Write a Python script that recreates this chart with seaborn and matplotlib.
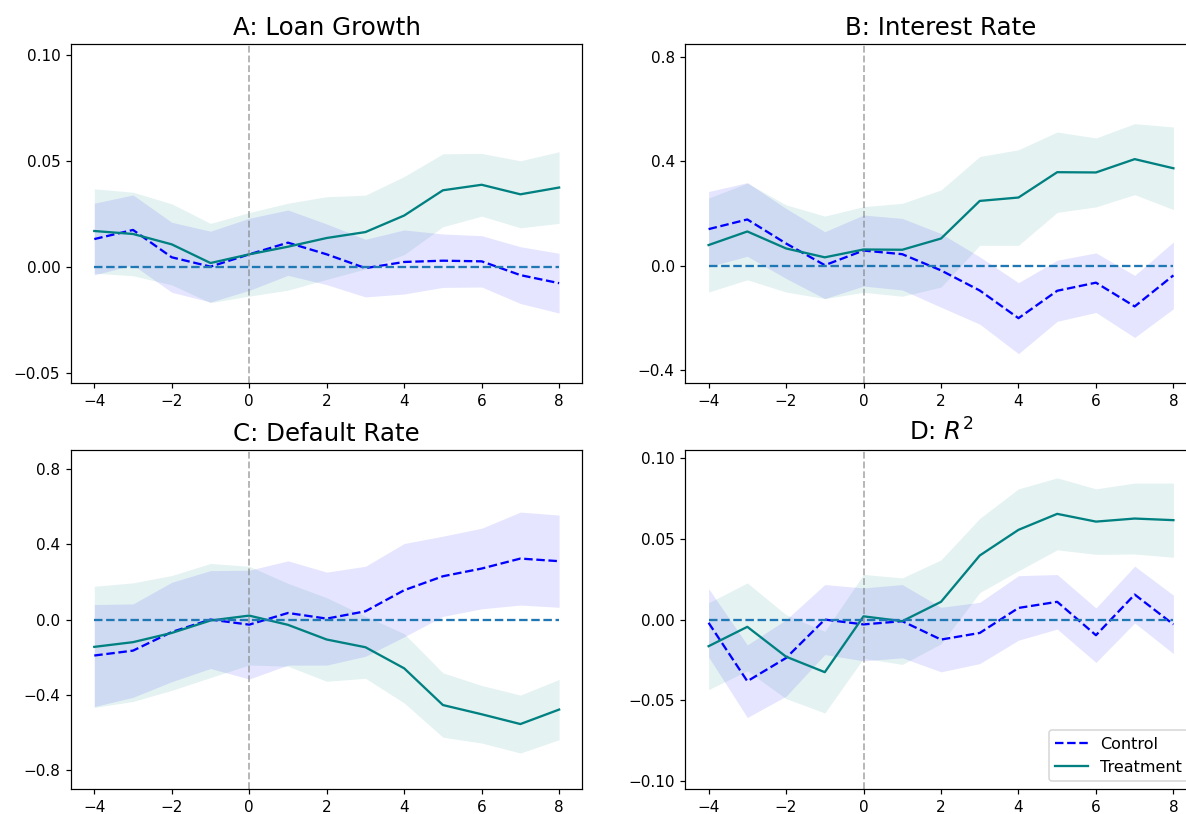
import matplotlib
matplotlib.use("Agg")
import matplotlib.pyplot as plt
import numpy as np
import pandas as pd
import seaborn as sns

# ---------------- data ----------------
periods = [-4, -3, -2, -1, 0, 1, 2, 3, 4, 5, 6, 7, 8]

titles = ["A: Loan Growth", "B: Interest Rate", "C: Default Rate", "D: $R^2$"]

ctrl_A = [0.0132, 0.0175, 0.0046, 0.0002, 0.0060, 0.0115, 0.0060, -0.0005, 0.0024, 0.0030, 0.0027, -0.0038, -0.0076]
ctrl_A_ci = [0.0169, 0.0165, 0.0165, 0.0167, 0.0170, 0.0154, 0.0143, 0.0136, 0.0151, 0.0126, 0.0121, 0.0134, 0.0141]
treat_A = [0.0170, 0.0156, 0.0107, 0.0019, 0.0060, 0.0096, 0.0137, 0.0165, 0.0243, 0.0362, 0.0388, 0.0343, 0.0375]
treat_A_ci = [0.0199, 0.0197, 0.0191, 0.0187, 0.0197, 0.0205, 0.0195, 0.0174, 0.0184, 0.0172, 0.0148, 0.0158, 0.0169]

ctrl_B = [0.141, 0.178, 0.086, 0.003, 0.059, 0.045, -0.017, -0.094, -0.200, -0.095, -0.064, -0.155, -0.036]
ctrl_B_ci = [0.144, 0.141, 0.134, 0.128, 0.136, 0.137, 0.141, 0.129, 0.136, 0.117, 0.114, 0.119, 0.128]
treat_B = [0.080, 0.132, 0.067, 0.033, 0.063, 0.062, 0.105, 0.249, 0.262, 0.359, 0.358, 0.409, 0.374]
treat_B_ci = [0.180, 0.185, 0.167, 0.158, 0.164, 0.178, 0.186, 0.170, 0.183, 0.154, 0.132, 0.136, 0.158]

ctrl_C = [-0.191, -0.165, -0.066, 0.000, -0.027, 0.035, 0.005, 0.044, 0.156, 0.230, 0.271, 0.324, 0.310]
ctrl_C_ci = [0.271, 0.248, 0.264, 0.260, 0.289, 0.277, 0.247, 0.239, 0.248, 0.213, 0.214, 0.247, 0.245]
treat_C = [-0.145, -0.120, -0.071, -0.005, 0.021, -0.028, -0.106, -0.147, -0.259, -0.454, -0.503, -0.555, -0.478]
treat_C_ci = [0.322, 0.315, 0.305, 0.303, 0.262, 0.220, 0.222, 0.165, 0.184, 0.171, 0.153, 0.154, 0.160]

ctrl_D = [-0.0020, -0.0382, -0.0238, 0.0000, -0.0030, -0.0010, -0.0124, -0.0083, 0.0072, 0.0110, -0.0097, 0.0155, -0.0030]
ctrl_D_ci = [0.0212, 0.0225, 0.0237, 0.0217, 0.0226, 0.0227, 0.0200, 0.0190, 0.0200, 0.0169, 0.0169, 0.0176, 0.0181]
treat_D = [-0.0165, -0.0045, -0.0230, -0.0326, 0.0020, -0.0010, 0.0110, 0.0397, 0.0556, 0.0655, 0.0607, 0.0626, 0.0616]
treat_D_ci = [0.0269, 0.0272, 0.0260, 0.0253, 0.0260, 0.0268, 0.0260, 0.0230, 0.0254, 0.0223, 0.0203, 0.0220, 0.0230]

ylims = [(-0.0546, 0.1052), (-0.4476, 0.85), (-0.9, 0.9), (-0.105, 0.105)]
yticks = [[-0.05, 0.00, 0.05, 0.10], [-0.4, 0.0, 0.4, 0.8],
          [-0.8, -0.4, 0.0, 0.4, 0.8], [-0.10, -0.05, 0.00, 0.05, 0.10]]

panels = [
    (ctrl_A, ctrl_A_ci, treat_A, treat_A_ci),
    (ctrl_B, ctrl_B_ci, treat_B, treat_B_ci),
    (ctrl_C, ctrl_C_ci, treat_C, treat_C_ci),
    (ctrl_D, ctrl_D_ci, treat_D, treat_D_ci),
]

# ---------------- figure ----------------
DPI = 110
fig = plt.figure(figsize=(1186 / DPI, 814 / DPI), dpi=DPI)
axes = fig.subplots(2, 2)
fig.subplots_adjust(left=0.0599, right=1.009, bottom=0.0307, top=0.946,
                    wspace=0.2014, hspace=0.1985)

x = np.array(periods)
for i, (ax, (c, cci, t, tci)) in enumerate(zip(axes.flat, panels)):
    c = np.array(c); cci = np.array(cci)
    t = np.array(t); tci = np.array(tci)
    df = pd.DataFrame({"period": x, "control": c, "treatment": t,
                       "zero": np.zeros_like(c)})

    ax.fill_between(x, c - cci, c + cci, color="blue", alpha=0.1, linewidth=0)
    ax.fill_between(x, t - tci, t + tci, color="teal", alpha=0.1, linewidth=0)

    sns.lineplot(data=df, x="period", y="control", ax=ax, color="blue",
                 linestyle="--", linewidth=1.5, label="Control")
    sns.lineplot(data=df, x="period", y="treatment", ax=ax, color="teal",
                 linestyle="-", linewidth=1.5, label="Treatment")
    ax.plot(df["period"], df["zero"], linestyle="--", color="C0", linewidth=1.5)
    ax.axvline(0, color="gray", linestyle="--", alpha=0.6, linewidth=1.2)

    ax.set_ylim(*ylims[i])
    ax.set_yticks(yticks[i])
    ax.set_xticks([-4, -2, 0, 2, 4, 6, 8])
    ax.set_xlabel("")
    ax.set_ylabel("")
    ax.set_title(titles[i], fontsize=16)

    if i == 3:
        ax.legend(loc="lower right", fontsize=10.5)
    else:
        leg = ax.get_legend()
        if leg is not None:
            leg.remove()

fig.savefig("out.png", dpi=DPI)
